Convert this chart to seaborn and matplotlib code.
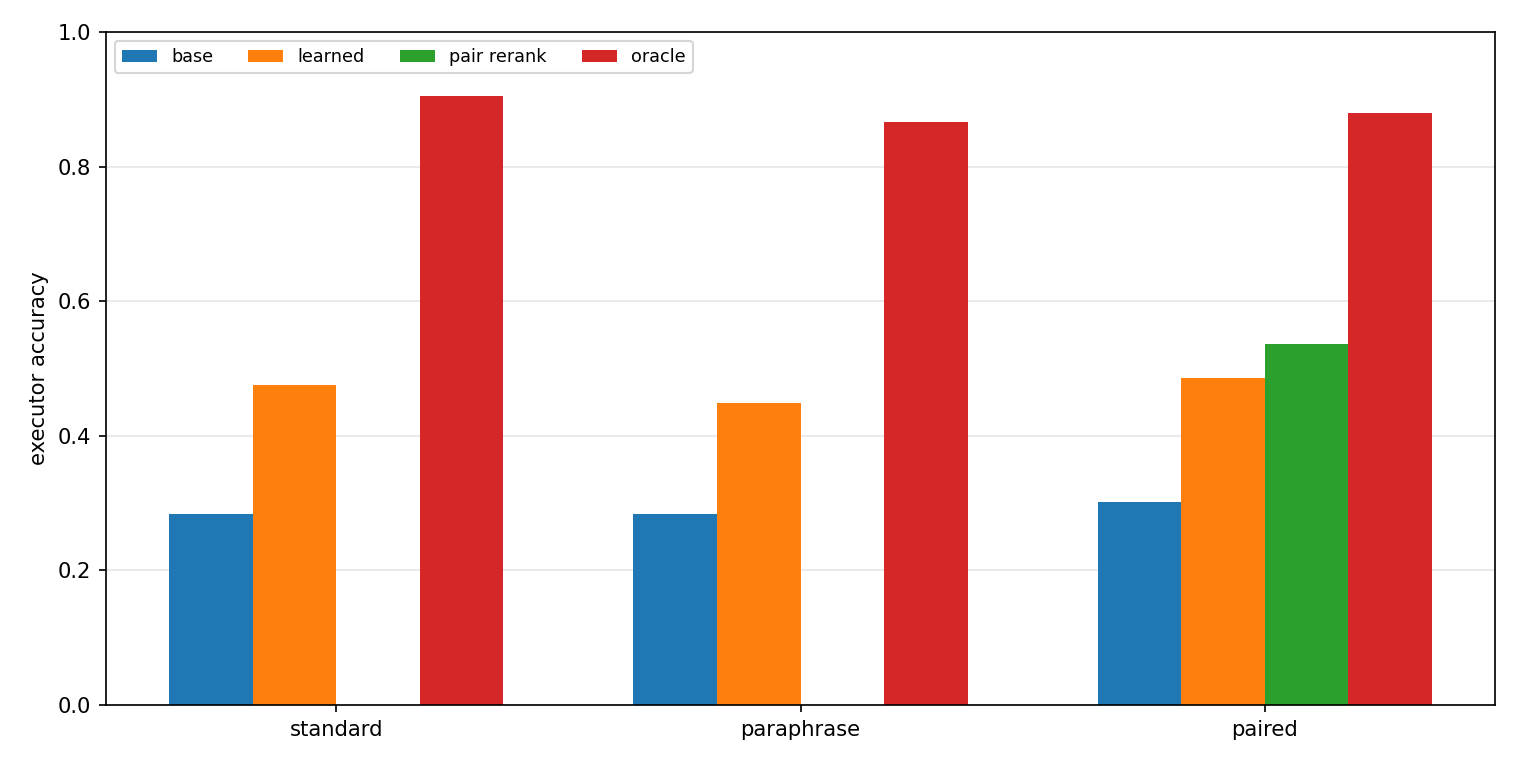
import matplotlib
matplotlib.use("Agg")
import matplotlib.pyplot as plt
import seaborn as sns
import pandas as pd
import numpy as np

categories = ["standard", "paraphrase", "paired"]
series = ["base", "learned", "pair rerank", "oracle"]
base = [0.284, 0.284, 0.302]
learned = [0.476, 0.449, 0.486]
pair_rerank = [np.nan, np.nan, 0.537]
oracle = [0.905, 0.867, 0.880]
colors = ["#1f77b4", "#ff7f0e", "#2ca02c", "#d62728"]

rows = []
for name, vals in zip(series, [base, learned, pair_rerank, oracle]):
    for c, v in zip(categories, vals):
        rows.append({"split": c, "method": name, "acc": v})
df = pd.DataFrame(rows)

DPI = 152
fig, ax = plt.subplots(figsize=(1520 / DPI, 768 / DPI), dpi=DPI)
sns.barplot(data=df, x="split", y="acc", hue="method", order=categories,
            hue_order=series, palette=colors, width=0.72, linewidth=0,
            saturation=1, ax=ax, errorbar=None)
ax.set_ylim(0, 1.0)
ax.set_xlim(-0.496, 2.496)
ax.set_xlabel("")
ax.set_ylabel("executor accuracy", fontsize=10)
ax.tick_params(labelsize=10)
ax.yaxis.grid(True, alpha=0.3)
ax.set_axisbelow(True)
ax.legend(loc="upper left", ncol=4, fontsize="small")
plt.subplots_adjust(left=0.0697, right=0.9836, top=0.9583, bottom=0.082)
fig.savefig("out.png", dpi=DPI)
